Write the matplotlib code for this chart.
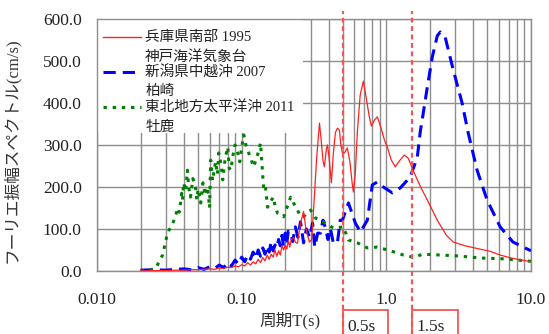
import matplotlib
matplotlib.use("Agg")
import matplotlib.pyplot as plt
from matplotlib.patches import Rectangle
from matplotlib.ticker import FixedLocator, NullFormatter, LogLocator
import matplotlib.transforms as mtransforms

plt.rcParams['font.family'] = ['Liberation Serif', 'Noto Sans CJK JP']

# Hyogo-ken Nanbu 1995, Kobe marine observatory (red, solid)
hyogo_period = [0.020, 0.025, 0.030, 0.035, 0.040, 0.045, 0.050, 0.055, 0.060, 0.065,
                0.070, 0.075, 0.080, 0.085, 0.090, 0.095, 0.100, 0.105, 0.110, 0.115,
                0.120, 0.125, 0.130, 0.135, 0.140, 0.145, 0.150, 0.155, 0.160, 0.165,
                0.170, 0.175, 0.180, 0.185, 0.190, 0.195, 0.200, 0.205, 0.210, 0.215,
                0.220, 0.228, 0.236, 0.243, 0.250, 0.258, 0.268, 0.278, 0.294, 0.305,
                0.314, 0.330, 0.345, 0.355, 0.365, 0.373, 0.385, 0.392, 0.402, 0.417,
                0.430, 0.445, 0.459, 0.474, 0.485, 0.497, 0.515, 0.538, 0.560, 0.580,
                0.592, 0.610, 0.630, 0.660, 0.694, 0.720, 0.760, 0.788, 0.830, 0.867,
                0.920, 0.970, 1.016, 1.080, 1.153, 1.230, 1.330, 1.420, 1.530, 1.715,
                1.920, 2.250, 2.600, 2.900, 3.500, 4.450, 5.200, 6.120, 7.500, 10.0]
hyogo_amp = [0, 1, 1, 2, 2, 3, 3, 4, 5, 4,
             7, 6, 9, 8, 12, 10, 15, 12, 20, 14,
             22, 17, 28, 20, 32, 24, 38, 28, 40, 33,
             50, 35, 48, 38, 60, 50, 62, 52, 72, 57,
             75, 79, 68, 66, 95, 120, 142, 100, 69, 75,
             145, 270, 352, 310, 262, 248, 290, 300, 270, 210,
             280, 330, 340, 335, 300, 281, 282, 293, 260, 210,
             188, 230, 330, 420, 452, 420, 370, 345, 360, 367,
             340, 312, 295, 265, 248, 262, 276, 268, 240, 202,
             169, 121, 85, 69, 60, 52, 47, 38, 30, 22]

# Niigata-ken Chuetsu-oki 2007, Kashiwazaki (blue, long dash)
niigata_period = [0.020, 0.025, 0.030, 0.035, 0.040, 0.045, 0.050, 0.055, 0.060, 0.065,
                  0.070, 0.075, 0.080, 0.085, 0.090, 0.095, 0.100, 0.105, 0.110, 0.115,
                  0.120, 0.125, 0.130, 0.135, 0.140, 0.145, 0.150, 0.155, 0.160, 0.165,
                  0.170, 0.175, 0.180, 0.185, 0.190, 0.195, 0.200, 0.205, 0.210, 0.218,
                  0.225, 0.235, 0.245, 0.255, 0.262, 0.268, 0.280, 0.295, 0.309, 0.320,
                  0.335, 0.350, 0.365, 0.380, 0.395, 0.410, 0.430, 0.459, 0.480, 0.497,
                  0.547, 0.611, 0.662, 0.739, 0.800, 0.867, 0.953, 1.100, 1.250, 1.464,
                  1.637, 1.715, 1.770, 1.920, 2.080, 2.250, 2.360, 2.550, 2.900, 3.340,
                  3.680, 4.240, 4.970, 6.120, 7.500, 10.0]
niigata_amp = [2, 3, 2, 4, 5, 3, 8, 4, 10, 6,
               14, 8, 20, 12, 26, 16, 33, 22, 38, 28,
               45, 30, 50, 35, 55, 40, 60, 45, 70, 48,
               62, 55, 75, 60, 85, 58, 90, 65, 95, 93,
               70, 105, 80, 117, 90, 67, 100, 80, 114, 57,
               90, 90, 121, 102, 75, 102, 67, 67, 121, 121,
               162, 114, 93, 121, 205, 212, 200, 186, 198, 224,
               271, 331, 360, 438, 510, 560, 569, 557, 479, 400,
               329, 240, 169, 105, 69, 48]

# Tohoku-chiho Taiheiyo-oki 2011, Oshika (green, dotted)
tohoku_period = [0.020, 0.023, 0.0255, 0.0284, 0.0307, 0.0334, 0.0349, 0.036, 0.037, 0.0378,
                 0.0385, 0.039, 0.0397, 0.041, 0.0422, 0.043, 0.0443, 0.046, 0.0479, 0.049,
                 0.050, 0.0521, 0.054, 0.056, 0.0582, 0.060, 0.0611, 0.063, 0.0641, 0.066,
                 0.068, 0.0694, 0.072, 0.074, 0.077, 0.0802, 0.082, 0.0841, 0.087, 0.090,
                 0.094, 0.097, 0.1018, 0.1034, 0.107, 0.110, 0.115, 0.121, 0.127, 0.131,
                 0.135, 0.140, 0.142, 0.146, 0.151, 0.158, 0.166, 0.171, 0.177, 0.186,
                 0.195, 0.205, 0.218, 0.230, 0.243, 0.255, 0.268, 0.285, 0.300, 0.324,
                 0.350, 0.380, 0.431, 0.505, 0.547, 0.631, 0.739, 0.867, 1.016, 1.190,
                 1.310, 1.530, 1.800, 3.090, 4.450, 6.400, 9.400, 10.0]
tohoku_amp = [0, 2, 7, 38, 90, 114, 129, 150, 140, 162,
              185, 170, 210, 190, 240, 200, 176, 220, 200, 170,
              195, 162, 210, 180, 200, 150, 264, 215, 233, 260,
              230, 281, 255, 217, 270, 295, 245, 240, 275, 300,
              281, 260, 312, 324, 300, 288, 270, 248, 270, 285,
              305, 224, 193, 200, 152, 165, 176, 150, 138, 135,
              129, 150, 176, 160, 145, 130, 129, 140, 145, 126,
              121, 114, 102, 105, 74, 67, 55, 57, 50, 43,
              38, 33, 40, 36, 31, 29, 24, 23]

x_ticks = [0.01, 0.1, 1.0, 10.0]
x_tick_labels = ["0.010", "0.10", "1.0", "10.0"]
y_ticks = [0, 100, 200, 300, 400, 500, 600]
y_tick_labels = ["0.0", "100.0", "200.0", "300.0", "400.0", "500.0", "600.0"]

legend_lines = [
    ("兵庫県南部 1995", "神戸海洋気象台"),
    ("新潟県中越沖 2007", "柏崎"),
    ("東北地方太平洋沖 2011", "牡鹿"),
]
marker_periods = [0.5, 1.5]
marker_labels = ["0.5s", "1.5s"]

RED = "#ff2020"
BLUE = "#0000ff"
GREEN = "#008000"
MARK = "#f35555"
GRID = "#8e8e8e"
BLUE_DASH = (4.0, 2.3)
GREEN_DASH = (1.1, 1.9)

fig = plt.figure(figsize=(5.49, 3.34), dpi=100)
ax = fig.add_axes([97 / 549, 63 / 334, 434 / 549, 252 / 334])

ax.plot(hyogo_period, hyogo_amp, color=RED, lw=0.9, zorder=4)
ax.plot(niigata_period, niigata_amp, color=BLUE, lw=2.2, dashes=BLUE_DASH, zorder=3)
ax.plot(tohoku_period, tohoku_amp, color=GREEN, lw=2.2, dashes=GREEN_DASH, zorder=3)

ax.set_xscale("log")
ax.set_xlim(0.01, 10)
ax.set_ylim(0, 600)

ax.xaxis.set_major_locator(FixedLocator(x_ticks))
ax.set_xticklabels(x_tick_labels)
ax.xaxis.set_minor_locator(LogLocator(base=10, subs=range(2, 10)))
ax.xaxis.set_minor_formatter(NullFormatter())
ax.set_yticks(y_ticks)
ax.set_yticklabels(y_tick_labels)

ax.tick_params(axis="both", which="both", length=0, labelsize=12.5, colors="#222222")
ax.tick_params(axis="y", pad=11)
ax.tick_params(axis="x", pad=15)

ax.set_axisbelow(True)
ax.xaxis.grid(True, which="both", color=GRID, lw=1.0)
ax.yaxis.grid(True, which="major", color=GRID, lw=1.0)
for sp in ax.spines.values():
    sp.set_color(GRID)
    sp.set_linewidth(1.0)

ax.set_ylabel("フーリエ振幅スペクトル(cm/s)", fontsize=12, color="#333333")
ax.yaxis.set_label_coords(-0.178, 0.48)
ax.set_xlabel("周期T(s)", fontsize=12, color="#333333")
ax.xaxis.set_label_coords(0.445, -0.163)

# legend, drawn by hand so the key sits on the first line of each label
ax.add_patch(Rectangle((0, 0.548), 0.475, 0.452, transform=ax.transAxes,
                       facecolor="white", edgecolor="none", zorder=1.5))
key_y = [(271 - 36.5) / 252, (271 - 71.5) / 252, (271 - 106.5) / 252]
text_y = [((271 - 37) / 252, (271 - 56.5) / 252),
          ((271 - 72.5) / 252, (271 - 91) / 252),
          ((271 - 107.5) / 252, (271 - 127) / 252)]
styles = [dict(color=RED, lw=1.0),
          dict(color=BLUE, lw=2.2, dashes=BLUE_DASH),
          dict(color=GREEN, lw=2.2, dashes=GREEN_DASH)]
for ky, (ty1, ty2), (l1, l2), st in zip(key_y, text_y, legend_lines, styles):
    ax.plot([0.013, 0.101], [ky, ky], transform=ax.transAxes, zorder=3, **st)
    ax.text(0.111, ty1, l1, transform=ax.transAxes, fontsize=10.5,
            va="center", ha="left", color="#222222", zorder=3)
    ax.text(0.111, ty2, l2, transform=ax.transAxes, fontsize=10.5,
            va="center", ha="left", color="#222222", zorder=3)

# dashed period markers with their boxes below the axis
box_tr = mtransforms.blended_transform_factory(ax.transData, ax.transAxes)
for p, lab in zip(marker_periods, marker_labels):
    ax.axvline(p, ymin=-0.26, ymax=1.032, color=MARK, lw=1.6,
               dashes=(2.2, 1.6), clip_on=False, zorder=5)
    ax.add_patch(Rectangle((p, -0.32), p * 1.07, 0.165, transform=box_tr,
                           facecolor="white", edgecolor=MARK, lw=1.3,
                           clip_on=False, zorder=4))
    ax.text(p * 1.075, -0.222, lab, transform=box_tr, fontsize=12.5,
            va="center", ha="left", color="#222222", clip_on=False, zorder=6)

fig.savefig("out.png", dpi=100)
